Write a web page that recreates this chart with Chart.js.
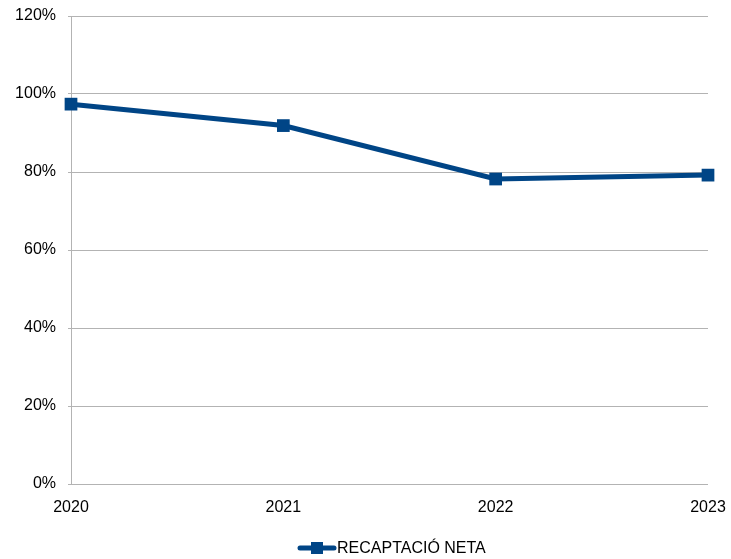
<!DOCTYPE html>
<html>
<head>
<meta charset="utf-8">
<script src="https://cdn.jsdelivr.net/npm/chart.js@4/dist/chart.umd.min.js"></script>
<style>
html,body{margin:0;padding:0;background:#fff;}
#wrap{width:731px;height:559px;}
</style>
</head>
<body>
<div id="wrap"><canvas id="chart" width="731" height="559"></canvas></div>
<script>
var anys = ["2020","2021","2022","2023"];
var recaptacio = [97.4, 91.9, 78.2, 79.2];
var etiquetaSerie = "RECAPTACIÓ NETA";
var colorSerie = "#004586";

// llegenda a mida: línia amb quadrat + text
var llegenda = {
  id: "llegenda",
  afterDraw: function(chart){
    var ctx = chart.ctx;
    var y = 548;
    ctx.save();
    ctx.strokeStyle = colorSerie;
    ctx.lineWidth = 5;
    ctx.lineCap = "round";
    ctx.beginPath();
    ctx.moveTo(300, y);
    ctx.lineTo(334, y);
    ctx.stroke();
    ctx.fillStyle = colorSerie;
    ctx.fillRect(311, y - 6, 12, 12);
    ctx.fillStyle = "#000";
    ctx.font = "16px 'Liberation Sans', Arial, sans-serif";
    ctx.textBaseline = "middle";
    ctx.textAlign = "left";
    ctx.fillText(etiquetaSerie, 337, y + 1);
    ctx.restore();
  }
};

new Chart(document.getElementById("chart"), {
  type: "line",
  data: {
    labels: anys,
    datasets: [{
      label: etiquetaSerie,
      data: recaptacio,
      borderColor: colorSerie,
      backgroundColor: colorSerie,
      borderWidth: 5,
      pointStyle: "rect",
      pointRadius: 9,
      pointHoverRadius: 9,
      pointBorderWidth: 0,
      tension: 0,
      clip: false
    }]
  },
  options: {
    responsive: false,
    animation: false,
    devicePixelRatio: 1,
    layout: { padding: { top: 16, right: 23, left: 0, bottom: 0 } },
    plugins: {
      legend: { display: false },
      tooltip: { enabled: false }
    },
    scales: {
      x: {
        offset: false,
        grid: { display: false },
        border: { display: false },
        ticks: {
          color: "#000",
          font: { family: "'Liberation Sans', Arial, sans-serif", size: 16 },
          padding: 6,
          maxRotation: 0
        },
        afterFit: function(s){
          s.height = 75;
          s.paddingLeft = 0; s.paddingRight = 0;
          s.paddingTop = 0; s.paddingBottom = 0;
        }
      },
      y: {
        min: 0,
        max: 120,
        ticks: {
          stepSize: 20,
          color: "#000",
          font: { family: "'Liberation Sans', Arial, sans-serif", size: 16 },
          padding: 12,
          callback: function(v){ return v + "%"; }
        },
        grid: { color: "#b3b3b3", lineWidth: 1, drawTicks: true, tickLength: 3 },
        border: { display: true, color: "#b3b3b3" },
        afterFit: function(s){
          s.width = 71;
          s.paddingTop = 0; s.paddingBottom = 0;
          s.paddingLeft = 0; s.paddingRight = 0;
        }
      }
    }
  },
  plugins: [llegenda]
});
</script>
</body>
</html>
